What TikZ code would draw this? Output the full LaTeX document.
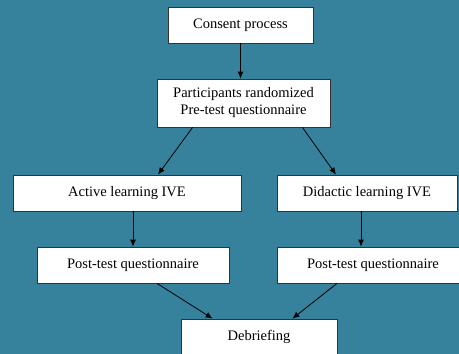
\documentclass[tikz,border=0pt]{standalone}
\usepackage{fontspec}
\setmainfont{Liberation Serif}
\usepackage{tikz}
\usetikzlibrary{
    arrows.meta,
    positioning
}
\definecolor{bgteal}{RGB}{54,130,156}

\begin{document}
\begin{tikzpicture}[x=1pt, y=-1pt,
        box/.style={rectangle, draw=black!80, fill=white, line width=0.8pt, inner sep=0pt, minimum height=36pt, font=\fontsize{14.5}{17}\selectfont, align=center},
        flow/.style={-{Latex[length=7pt, width=6pt]}, line width=0.8pt, black}]
                        \fill[bgteal] (0, 0) rectangle (459, 354);
                        \useasboundingbox (0, 0) rectangle (459, 354);
                        \clip (0, 0) rectangle (459, 354);
                        \node[box, minimum width=145pt] (consent) at (240.5, 25) {Consent process};
                        \node[box, minimum width=173pt, minimum height=48pt] (rand) at (243.5, 103) {Participants randomized\\Pre-test questionnaire};
                        \node[box, minimum width=228pt] (active) at (127, 193) {Active learning IVE};
                        \node[box, minimum width=180pt] (didactic) at (367, 193) {Didactic learning IVE};
                        \node[box, minimum width=192pt] (postl) at (133, 265) {Post-test questionnaire};
                        \node[box, minimum width=192pt] (postr) at (373, 265) {Post-test questionnaire};
                        \node[box, minimum width=156pt] (debrief) at (259, 337) {Debriefing};
                        \draw
                        (consent.south) edge[flow] (consent.south |- rand.north)
                        ([xshift=36pt]rand.south west) edge[flow] ([xshift=31pt]active.north)
                        ([xshift=-28pt]rand.south east) edge[flow] ([xshift=-31pt]didactic.north)
                        (postl.north |- active.south) edge[flow] (postl.north)
                        ([xshift=-6pt]didactic.south) edge[flow] ([xshift=-12pt]postr.north)
                        ([xshift=24pt]postl.south) edge[flow] ([xshift=32pt]debrief.north west)
                        ([xshift=-36pt]postr.south) edge[flow] ([xshift=-45pt]debrief.north east);
                    \end{tikzpicture}
\end{document}
